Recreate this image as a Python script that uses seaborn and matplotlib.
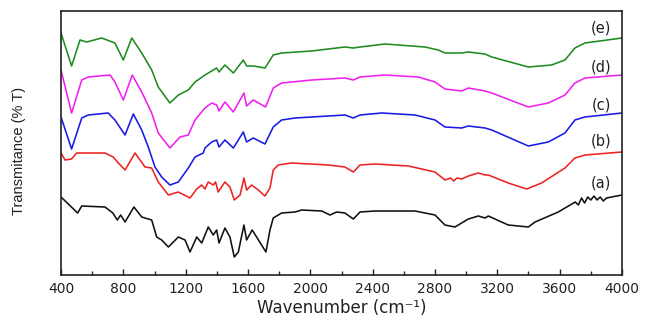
import matplotlib
matplotlib.use("Agg")
import matplotlib.pyplot as plt
import seaborn as sns
import pandas as pd

# FTIR spectra (transmittance in arbitrary offset units)
wn_a = [400, 507, 533, 682, 733, 761, 783, 811, 868, 918, 982, 1014, 1046, 1089, 1153, 1196,
        1228, 1271, 1303, 1345, 1377, 1399, 1414, 1452, 1484, 1512, 1538, 1574, 1591, 1627,
        1655, 1715, 1741, 1762, 1816, 1902, 1945, 2073, 2126, 2169, 2222, 2276, 2319, 2415,
        2672, 2800, 2864, 2928, 2971, 3014, 3078, 3121, 3142, 3270, 3399, 3442, 3591, 3700,
        3720, 3740, 3760, 3780, 3800, 3820, 3840, 3860, 3880, 3900, 4000]
t_a = [78, 62, 69, 68, 62, 55, 60, 53, 68, 58, 55, 38, 35, 28, 38, 35,
       23, 38, 32, 48, 40, 45, 32, 47, 38, 18, 23, 50, 35, 45,
       38, 23, 45, 57, 62, 63, 65, 64, 60, 63, 62, 56, 63, 64,
       64, 60, 50, 48, 52, 56, 59, 57, 59, 50, 48, 53, 63, 73,
       70, 77, 72, 78, 75, 79, 75, 78, 74, 77, 80]

wn_b = [400, 426, 468, 500, 682, 735, 768, 811, 875, 939, 982, 1024, 1089, 1153, 1228, 1271,
        1303, 1324, 1345, 1377, 1392, 1409, 1452, 1484, 1512, 1549, 1574, 1591, 1623, 1666,
        1709, 1741, 1762, 1794, 1880, 2115, 2222, 2276, 2319, 2415, 2629, 2800, 2864, 2900,
        2920, 2940, 2971, 3014, 3078, 3121, 3142, 3270, 3388, 3484, 3634, 3698, 3762, 4000]
t_b = [122, 115, 116, 122, 122, 118, 112, 105, 122, 108, 107, 93, 80, 83, 77, 86,
       90, 86, 93, 90, 93, 83, 93, 88, 75, 80, 97, 85, 90, 85,
       79, 87, 105, 110, 112, 110, 108, 103, 110, 111, 109, 103, 95, 97,
       94, 97, 96, 99, 102, 100, 100, 92, 86, 92, 107, 117, 120, 123]

wn_c = [400, 468, 533, 575, 703, 746, 811, 864, 918, 960, 1003, 1046, 1099, 1153, 1217, 1260,
        1313, 1324, 1367, 1399, 1414, 1452, 1506, 1570, 1591, 1634, 1709, 1762, 1816, 1902,
        2222, 2276, 2319, 2458, 2672, 2800, 2864, 2971, 3014, 3121, 3164, 3399, 3527, 3634,
        3698, 3762, 4000]
t_c = [158, 126, 157, 160, 162, 155, 140, 161, 145, 128, 108, 98, 90, 93, 107, 118,
       122, 127, 133, 135, 128, 135, 127, 143, 133, 137, 131, 148, 155, 157,
       160, 157, 160, 162, 160, 155, 148, 147, 149, 147, 145, 129, 133, 142,
       155, 158, 162]

wn_d = [400, 468, 533, 575, 715, 746, 800, 857, 918, 982, 1024, 1099, 1164, 1217, 1260, 1324,
        1367, 1399, 1414, 1452, 1506, 1574, 1591, 1634, 1713, 1762, 1816, 2009, 2222, 2276,
        2319, 2479, 2693, 2800, 2864, 2971, 3014, 3121, 3164, 3399, 3527, 3634, 3698, 3762,
        4000]
t_d = [205, 162, 195, 198, 200, 193, 175, 200, 183, 162, 142, 127, 138, 140, 155, 167,
       172, 170, 164, 173, 163, 182, 169, 175, 168, 187, 192, 195, 197, 195,
       198, 200, 198, 193, 186, 184, 187, 184, 182, 168, 172, 180, 192, 197,
       200]

wn_e = [400, 468, 522, 565, 661, 746, 800, 854, 918, 982, 1024, 1099, 1153, 1217, 1260, 1324,
        1377, 1399, 1414, 1452, 1506, 1570, 1591, 1634, 1709, 1762, 1816, 2009, 2222, 2276,
        2319, 2479, 2736, 2821, 2864, 2971, 3014, 3121, 3164, 3399, 3548, 3634, 3698, 3762,
        4000]
t_e = [242, 209, 235, 233, 237, 232, 215, 237, 222, 205, 188, 172, 180, 185, 193, 200,
       205, 207, 203, 210, 202, 215, 209, 209, 207, 220, 222, 224, 228, 227,
       228, 231, 228, 225, 222, 222, 223, 221, 218, 208, 210, 215, 227, 232,
       237]

labels = ["(a)", "(b)", "(c)", "(d)", "(e)"]
colors = ["#111111", "#ee2222", "#1a1ae6", "#f020f0", "#1e8c1e"]
label_y = [92, 134, 170, 208, 247]  # in the same T units as the curves

frames = []
for lab, wn, t in zip(labels, [wn_a, wn_b, wn_c, wn_d, wn_e], [t_a, t_b, t_c, t_d, t_e]):
    frames.append(pd.DataFrame({"wavenumber": wn, "T": t, "sample": lab}))
df = pd.concat(frames, ignore_index=True)

sns.set_theme(style="white")
plt.rcParams["font.family"] = ["DejaVu Sans"]

fig = plt.figure(figsize=(6.53, 3.22), dpi=100)
ax = fig.add_axes([61 / 653, 1 - 275 / 322, 561 / 653, 264 / 322])

ax = sns.lineplot(data=df, x="wavenumber", y="T", hue="sample",
                  palette=dict(zip(labels, colors)), estimator=None, sort=False,
                  linewidth=1.15, legend=False, ax=ax)

ax.set_xlim(400, 4000)
ax.set_ylim(0, 264)
ax.set_xticks(range(400, 4001, 400))
ax.set_xticks(range(600, 4000, 400), minor=True)
ax.set_yticks([])
ax.tick_params(axis="x", which="major", direction="in", length=4, width=1, labelsize=10,
               bottom=True, pad=5, colors="#222222")
ax.tick_params(axis="x", which="minor", direction="in", length=3, width=1, bottom=True)
for s in ax.spines.values():
    s.set_color("#222222")
    s.set_linewidth(1.2)

for lab, y in zip(labels, label_y):
    ax.text(3865, y, lab, ha="center", va="center", fontsize=10.5, color="#222222")

ax.set_xlabel("Wavenumber (cm\u207b\u00b9)", fontsize=12, color="#222222", labelpad=2)
ax.set_ylabel("Transmitance (% T)", fontsize=10.5, family=["Liberation Sans", "DejaVu Sans"],
              color="#222222")
ax.yaxis.set_label_coords(-0.062, 0.47)

fig.savefig("out.png", dpi=100, facecolor="white")
